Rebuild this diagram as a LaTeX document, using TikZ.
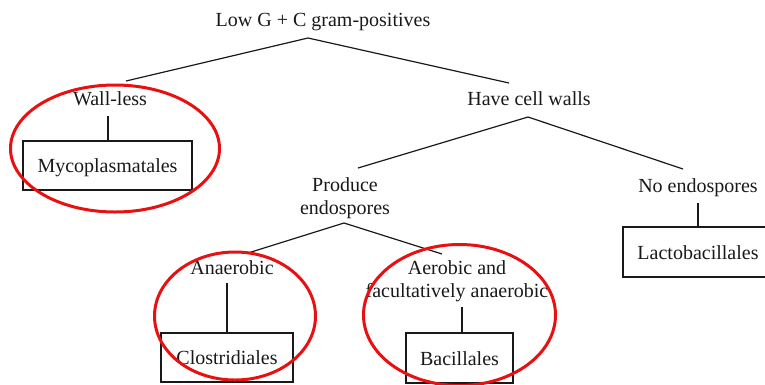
\documentclass[tikz,border=0pt]{standalone}
\usepackage{fontspec}
\setmainfont{Liberation Serif}
\definecolor{ink}{RGB}{25,25,25}
\definecolor{ring}{RGB}{232,16,16}
\tikzset{
  lbl/.style={anchor=base, inner sep=0pt, font=\fontsize{20}{22.5}\selectfont, text=ink, align=center},
  taxon/.style={draw=ink, line width=1.2pt, inner sep=0pt, font=\fontsize{20}{22.5}\selectfont, text=ink,
     text height=18pt, text depth=4pt, minimum height=#1},
  taxon/.default=49pt,
  link/.style={draw=ink, line width=1.2pt},
  redring/.style={draw=ring, line width=3pt}
}
\begin{document}
\begin{tikzpicture}[x=1pt,y=-1pt]
\useasboundingbox (0,0) rectangle (765,384);
\clip (0,0) rectangle (765,384);
% text labels (base anchor = baseline of the last line)
\node[lbl] (root) at (323,26) {Low G + C gram-positives};
\node[lbl] (wall) at (110,105) {Wall-less};
\node[lbl] (cell) at (529,105) {Have cell walls};
\node[lbl] (prod) at (345,214) {Produce\\endospores};
\node[lbl] (noen) at (698,192) {No endospores};
\node[lbl] (anae) at (232,274) {Anaerobic};
\node[lbl] (aero) at (457,297) {Aerobic and\\facultatively anaerobic};
% boxes
\node[taxon=49pt, minimum width=169pt] (myco) at (107.5,165.5) {Mycoplasmatales};
\node[taxon=50pt, minimum width=150pt] (lacto) at (698,252) {Lactobacillales};
\node[taxon=49pt, minimum width=132pt] (clos) at (227,357.5) {Clostridiales};
\node[taxon=50pt, minimum width=107pt] (baci) at (459.5,358) {Bacillales};
% connector points
\coordinate (r0) at (308,38);
\coordinate (r1) at (126,81);
\coordinate (r2) at (509,83);
\coordinate (w0) at (108,116);
\coordinate (c0) at (528,117);
\coordinate (c1) at (358,168);
\coordinate (c2) at (683,169);
\coordinate (n0) at (698,203);
\coordinate (p0) at (344,223);
\coordinate (p1) at (248,253);
\coordinate (p2) at (442,254);
\coordinate (a0) at (227,283);
\coordinate (b0) at (462,307);
% connectors
\draw[link] (r1) -- (r0) -- (r2);
\draw[link] (w0) -- (w0 |- myco.north);
\draw[link] (c1) -- (c0) -- (c2);
\draw[link] (n0) -- (n0 |- lacto.north);
\draw[link] (p1) -- (p0) -- (p2);
\draw[link] (a0) -- (a0 |- clos.north);
\draw[link] (b0) -- (b0 |- baci.north);
% red rings
\draw[redring] (115,148.5) ellipse [x radius=104.5, y radius=63.5];
\draw[redring] (235,316) ellipse [x radius=80.5, y radius=64];
\draw[redring] (459.5,315) ellipse [x radius=96, y radius=70.5];
\end{tikzpicture}
\end{document}
